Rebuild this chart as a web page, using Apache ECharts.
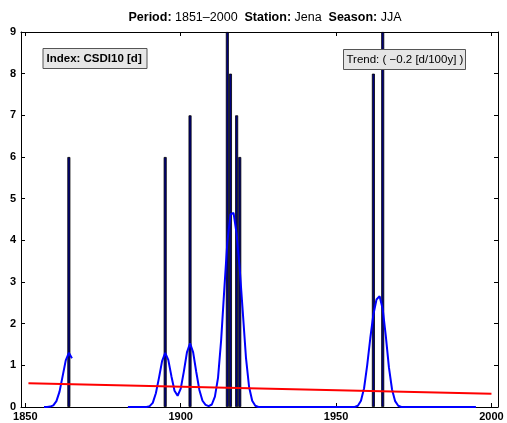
<!DOCTYPE html>
<html><head><meta charset="utf-8">
<script src="https://cdn.jsdelivr.net/npm/echarts@6/dist/echarts.min.js"></script>
<style>html,body{margin:0;padding:0;background:#fff}#c{width:507px;height:423px}</style>
</head><body><div id="c"></div>
<script>
const barYears = [1864, 1895, 1903, 1915, 1916, 1918, 1919, 1962, 1965];
const barValues = [6, 6, 7, 9, 8, 7, 6, 8, 9];

const smoothYears1 = [1856, 1857, 1858, 1859, 1860, 1861, 1862, 1863, 1864, 1865];
const smoothValues1 = [0, 0, 0.01, 0.04, 0.14, 0.37, 0.74, 1.12, 1.3, 1.17];

const smoothStart2 = 1883;
const smoothValues2 = [
  0, 0, 0, 0, 0, 0, 0,
  0.02, 0.1, 0.33, 0.7, 1.1, 1.3, 1.13, 0.74, 0.39, 0.27,
  0.44, 0.85, 1.31, 1.53, 1.31, 0.84, 0.41, 0.15, 0.05, 0.02,
  0.06, 0.25, 0.7, 1.6, 2.8, 3.95, 4.62, 4.66, 4.15, 3.3,
  2.25, 1.18, 0.48, 0.15, 0.03,
  0, 0, 0, 0, 0, 0, 0, 0, 0, 0, 0, 0, 0, 0, 0, 0,
  0, 0, 0, 0, 0, 0, 0, 0, 0, 0, 0, 0, 0, 0, 0,
  0, 0.03, 0.15, 0.45, 1.0, 1.65, 2.22, 2.58, 2.66, 2.35,
  1.7, 0.95, 0.42, 0.14, 0.03,
  0, 0, 0, 0, 0, 0, 0, 0, 0, 0, 0, 0, 0, 0, 0, 0, 0, 0, 0, 0, 0, 0, 0, 0, 0
];
const smoothYears2 = smoothValues2.map((_, i) => smoothStart2 + i);

const trendYears = [1851, 2000];
const trendValues = [0.57, 0.32];

const xTickValues = [1850, 1900, 1950, 2000];
const yTickValues = [0, 1, 2, 3, 4, 5, 6, 7, 8, 9];

const titleParts = ['Period:', '1851–2000', 'Station:', 'Jena', 'Season:', 'JJA'];
const indexLabel = 'Index: CSDI10 [d]';
const trendLabel = 'Trend: ( −0.2 [d/100y] )';

const FONT = '"Liberation Sans", Arial, Helvetica, sans-serif';
const chart = echarts.init(document.getElementById('c'));

const zip = (a, b) => a.map((v, i) => [v, b[i]]);

const xBase = {
  type: 'value', min: 1848.6, max: 2002.1,
  splitLine: { show: false },
  axisLine: { show: true, onZero: false, lineStyle: { color: '#000', width: 1 } },
  axisTick: { show: true, inside: true, length: 4, customValues: xTickValues, lineStyle: { color: '#000' } },
};
const yBase = {
  type: 'value', min: 0, max: 9, interval: 1,
  splitLine: { show: false },
  axisLine: { show: true, onZero: false, lineStyle: { color: '#000', width: 1 } },
  axisTick: { show: true, inside: true, length: 4, lineStyle: { color: '#000' } },
};

chart.setOption({
  animation: false,
  backgroundColor: '#fff',
  title: {
    left: 260, top: 6, textAlign: 'center',
    text: `{b|${titleParts[0]}} ${titleParts[1]}  {b|${titleParts[2]}} ${titleParts[3]}  {b|${titleParts[4]}} ${titleParts[5]}`,
    textStyle: {
      fontFamily: FONT, fontSize: 12.5, fontWeight: 'normal', color: '#000',
      rich: { b: { fontFamily: FONT, fontSize: 12.5, fontWeight: 'bold', color: '#000' } }
    }
  },
  grid: { left: 21, right: 9, top: 32, bottom: 16, containLabel: false },
  xAxis: [
    Object.assign({}, xBase, {
      position: 'bottom',
      axisLabel: { show: true, customValues: xTickValues, margin: 4, fontFamily: FONT, fontSize: 11, fontWeight: 'bold', color: '#000',
        formatter: v => String(v) }
    }),
    Object.assign({}, xBase, { position: 'top', axisLabel: { show: false } })
  ],
  yAxis: [
    Object.assign({}, yBase, {
      position: 'left',
      axisLabel: { show: true, margin: 5, fontFamily: FONT, fontSize: 11, fontWeight: 'bold', color: '#000',
        formatter: v => yTickValues.includes(v) ? String(v) : '' }
    }),
    Object.assign({}, yBase, { position: 'right', axisLabel: { show: false } })
  ],
  series: [
    {
      type: 'bar', xAxisIndex: 0, yAxisIndex: 0, z: 2,
      data: zip(barYears, barValues),
      barWidth: 3,
      itemStyle: { color: '#000080', borderColor: '#000', borderWidth: 0.8 }
    },
    {
      type: 'line', xAxisIndex: 0, yAxisIndex: 0, z: 3,
      data: zip(smoothYears1, smoothValues1),
      showSymbol: false, symbol: 'none',
      lineStyle: { color: '#0000ff', width: 2 }
    },
    {
      type: 'line', xAxisIndex: 0, yAxisIndex: 0, z: 3,
      data: zip(smoothYears2, smoothValues2),
      showSymbol: false, symbol: 'none',
      lineStyle: { color: '#0000ff', width: 2 }
    },
    {
      type: 'line', xAxisIndex: 0, yAxisIndex: 0, z: 4,
      data: zip(trendYears, trendValues),
      showSymbol: false, symbol: 'none',
      lineStyle: { color: '#ff0000', width: 2 }
    }
  ],
  graphic: [
    { type: 'rect', z: 10, shape: { x: 43, y: 48.5, width: 104, height: 20 },
      style: { fill: '#e6e6e6', stroke: '#555', lineWidth: 1 } },
    { type: 'text', z: 11, x: 46.5, y: 58.5,
      style: { text: indexLabel, font: 'bold 11.5px ' + FONT, fill: '#000', verticalAlign: 'middle', align: 'left' } },
    { type: 'rect', z: 10, shape: { x: 343.5, y: 49.5, width: 122, height: 20 },
      style: { fill: '#e6e6e6', stroke: '#555', lineWidth: 1 } },
    { type: 'text', z: 11, x: 346.5, y: 59.5,
      style: { text: trendLabel, font: '11.5px ' + FONT, fill: '#000', verticalAlign: 'middle', align: 'left' } }
  ]
});
</script>
</body></html>
